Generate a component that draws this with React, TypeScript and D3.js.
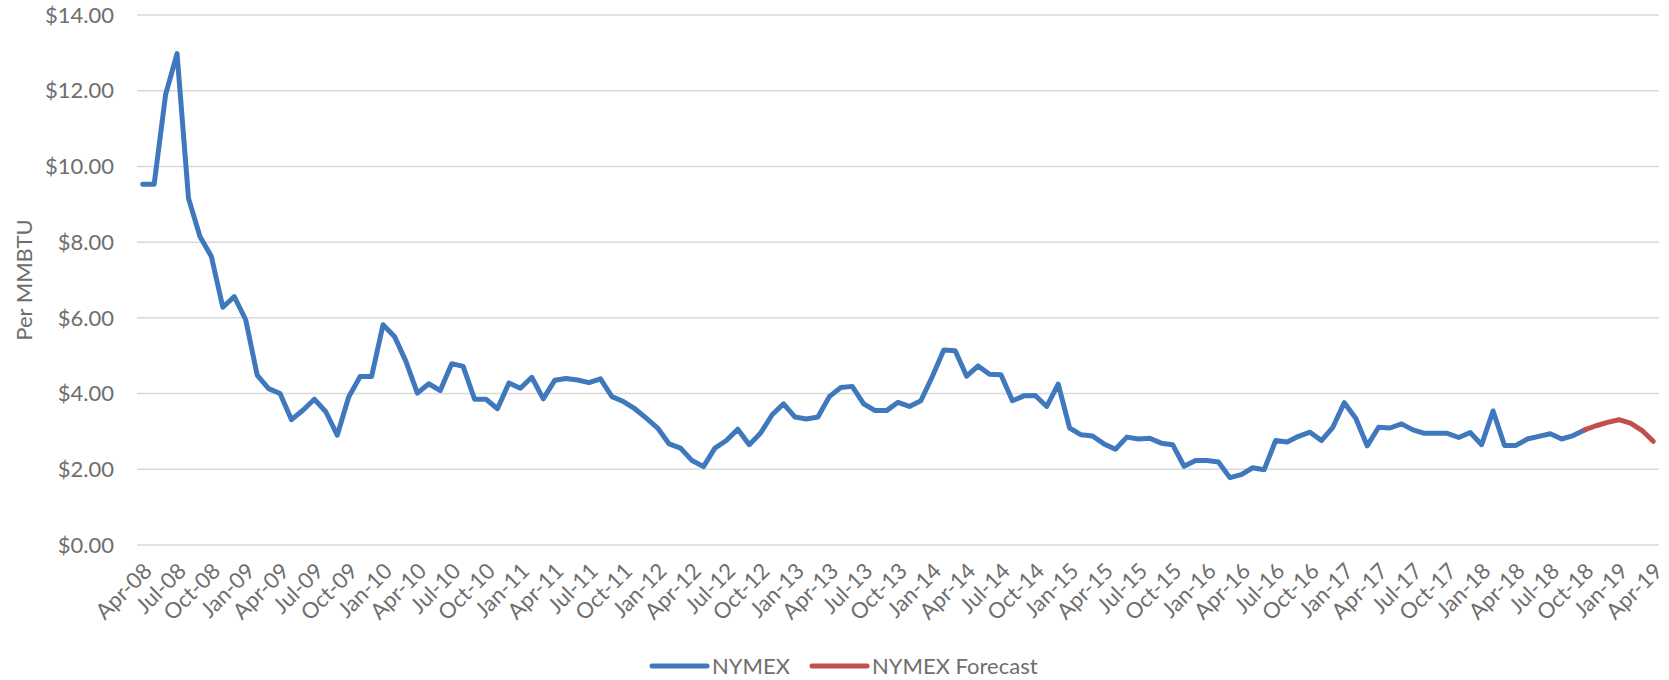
import * as d3 from "d3";
import { useRef, useEffect } from "react";

// monthly NYMEX settle price, Apr-08 .. Oct-18
const nymex: number[] = [
  9.53, 9.53, 11.9, 12.98, 9.16, 8.15, 7.62, 6.28, 6.56, 5.95, 4.49, 4.13,
  4.0, 3.31, 3.56, 3.85, 3.52, 2.9, 3.91, 4.45, 4.45, 5.82, 5.51, 4.85,
  4.01, 4.26, 4.08, 4.79, 4.72, 3.85, 3.85, 3.6, 4.28, 4.14, 4.43, 3.86,
  4.35, 4.4, 4.36, 4.29, 4.39, 3.92, 3.79, 3.6, 3.35, 3.09, 2.67, 2.56,
  2.23, 2.07, 2.56, 2.76, 3.06, 2.65, 2.96, 3.44, 3.73, 3.38, 3.33, 3.38,
  3.92, 4.16, 4.19, 3.73, 3.55, 3.55, 3.77, 3.66, 3.81, 4.45, 5.15, 5.13,
  4.46, 4.73, 4.51, 4.5, 3.81, 3.94, 3.95, 3.66, 4.25, 3.09, 2.91, 2.88,
  2.67, 2.53, 2.85, 2.8, 2.82, 2.69, 2.65, 2.08, 2.23, 2.23, 2.19, 1.78,
  1.86, 2.04, 1.99, 2.76, 2.72, 2.87, 2.98, 2.76, 3.11, 3.76, 3.35, 2.62,
  3.11, 3.09, 3.2, 3.04, 2.95, 2.95, 2.95, 2.84, 2.97, 2.65, 3.54, 2.63,
  2.63, 2.8, 2.87, 2.94, 2.8, 2.89, 3.04,
];
// forecast, Oct-18 .. Apr-19
const forecast: number[] = [3.04, 3.15, 3.24, 3.31, 3.22, 3.03, 2.74];

const yTicks: number[] = [0, 2, 4, 6, 8, 10, 12, 14];
const seriesNames: string[] = ["NYMEX", "NYMEX Forecast"];
const seriesColors: string[] = ["#4078be", "#c0504d"];

const fmtMonth = d3.timeFormat("%b-%y");
const months: string[] = d3
  .timeMonth.range(new Date(2008, 3, 1), new Date(2019, 4, 1))
  .map((d) => fmtMonth(d));

const FONT = "Lato, 'Open Sans', sans-serif";
const TEXT = "#6e6e6e";
const FS = "22px";

export default function App() {
  const ref = useRef<SVGSVGElement>(null);
  const width = 1669;
  const height = 680;
  const margin = { top: 15, right: 10, bottom: 135, left: 137 };

  useEffect(() => {
    const svg = d3.select(ref.current);
    svg.selectAll("*").remove();

    const x = d3
      .scaleBand<string>()
      .domain(months)
      .range([margin.left, width - margin.right])
      .padding(0);
    const y = d3
      .scaleLinear()
      .domain([0, 14])
      .range([height - margin.bottom, margin.top]);
    const cx = (i: number) => (x(months[i]) as number) + x.bandwidth() / 2;

    // grid
    svg
      .append("g")
      .selectAll("line")
      .data(yTicks)
      .enter()
      .append("line")
      .attr("x1", margin.left)
      .attr("x2", width - margin.right)
      .attr("y1", (d) => y(d))
      .attr("y2", (d) => y(d))
      .style("stroke", "#d9d9d9")
      .style("stroke-width", 1.5);

    // y labels
    const fmt = d3.format("$.2f");
    svg
      .append("g")
      .selectAll("text")
      .data(yTicks)
      .enter()
      .append("text")
      .attr("x", margin.left - 23)
      .attr("y", (d) => y(d))
      .attr("dy", "0.35em")
      .attr("text-anchor", "end")
      .style("font-family", FONT)
      .style("font-size", FS)
      .style("fill", TEXT)
      .text((d) => fmt(d));

    // y title
    svg
      .append("text")
      .attr("transform", `translate(32, ${(margin.top + height - margin.bottom) / 2}) rotate(-90)`)
      .attr("text-anchor", "middle")
      .style("font-family", FONT)
      .style("font-size", FS)
      .style("fill", TEXT)
      .text("Per MMBTU");

    // x labels, every 3rd month
    const base = height - margin.bottom;
    svg
      .append("g")
      .selectAll("text")
      .data(months.filter((_, i) => i % 3 === 0))
      .enter()
      .append("text")
      .attr("transform", (d) => {
        const px = (x(d) as number) + x.bandwidth() / 2 + 5;
        return `translate(${px}, ${base + 22}) rotate(-45)`;
      })
      .attr("dy", "0.35em")
      .attr("text-anchor", "end")
      .style("font-family", FONT)
      .style("font-size", FS)
      .style("fill", TEXT)
      .text((d) => d);

    // lines
    const line = d3
      .line<[number, number]>()
      .x((d) => cx(d[0]))
      .y((d) => y(d[1]));
    const nyData: [number, number][] = nymex.map((v, i) => [i, v]);
    const off = nymex.length - 1;
    const fcData: [number, number][] = forecast.map((v, i) => [i + off, v]);

    [nyData, fcData].forEach((data, k) => {
      svg
        .append("path")
        .datum(data)
        .attr("d", line)
        .style("fill", "none")
        .style("stroke", seriesColors[k])
        .style("stroke-width", 5)
        .style("stroke-linejoin", "round")
        .style("stroke-linecap", "round");
    });

    // legend
    const ly = 666;
    const items = [
      { x: 652, name: seriesNames[0], color: seriesColors[0] },
      { x: 812, name: seriesNames[1], color: seriesColors[1] },
    ];
    const lg = svg.append("g");
    items.forEach((it) => {
      lg.append("line")
        .attr("x1", it.x)
        .attr("x2", it.x + 55)
        .attr("y1", ly)
        .attr("y2", ly)
        .style("stroke", it.color)
        .style("stroke-width", 5)
        .style("stroke-linecap", "round");
      lg.append("text")
        .attr("x", it.x + 60)
        .attr("y", ly)
        .attr("dy", "0.35em")
        .style("font-family", FONT)
        .style("font-size", FS)
        .style("fill", TEXT)
        .text(it.name);
    });
  }, []);

  return (
    <svg
      ref={ref}
      width={width}
      height={height}
      style={{ position: "absolute", left: 0, top: 0, background: "#fff" }}
    ></svg>
  );
}
